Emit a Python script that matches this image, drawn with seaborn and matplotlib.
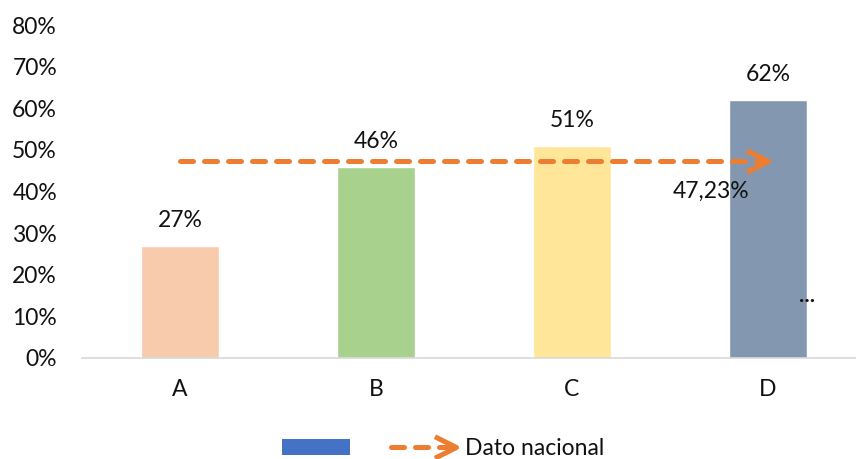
import matplotlib
matplotlib.use("Agg")
import matplotlib.pyplot as plt
import seaborn as sns
import pandas as pd
from matplotlib.path import Path
from matplotlib.lines import Line2D
from matplotlib.patches import Patch
from matplotlib.legend_handler import HandlerBase

# Data
categories = ["A", "B", "C", "D"]
values = [0.27, 0.46, 0.51, 0.62]
bar_colors = ["#F8CBAD", "#A9D18E", "#FFE699", "#8497B0"]
national_value = 0.4723
national_label = "Dato nacional"
y_ticks = [0.0, 0.1, 0.2, 0.3, 0.4, 0.5, 0.6, 0.7, 0.8]

sns.set_theme(style="white")
plt.rcParams["font.family"] = ["Lato", "DejaVu Sans"]

FS = 16.5
ORANGE = "#ED7D31"
TEXT = "#111111"

df = pd.DataFrame({"cat": categories, "val": values})

fig = plt.figure(figsize=(8.56, 4.59), dpi=100)
ax = fig.add_axes([82 / 856, (459 - 358) / 459, 1 - 82 / 856, (358 - 25) / 459])

sns.barplot(data=df, x="cat", y="val", hue="cat", palette=bar_colors,
            width=0.40, saturation=1, legend=False, ax=ax)

ax.set_ylim(0, 0.8)
ax.set_xlim(-0.5, 3.45)
ax.set_yticks(y_ticks)
ax.set_yticklabels([f"{int(round(t * 100))}%" for t in y_ticks],
                   fontsize=FS, color=TEXT)
ax.tick_params(axis="y", length=0, pad=18)
ax.tick_params(axis="x", length=0, pad=15, labelsize=FS, labelcolor=TEXT)
ax.set_xlabel("")
ax.set_ylabel("")
for side in ["left", "right", "top"]:
    ax.spines[side].set_visible(False)
ax.spines["bottom"].set_color("#D9D9D9")
ax.spines["bottom"].set_linewidth(1.2)

# value labels above bars
for i, v in enumerate(values):
    ax.annotate(f"{int(round(v * 100))}%", xy=(i, v), xytext=(0, 13.5),
                textcoords="offset points", ha="center", va="baseline",
                fontsize=FS, color=TEXT)

# open chevron used as arrow head
chevron = Path([(-1, 0.5), (0, 0), (-1, -0.5)],
               [Path.MOVETO, Path.LINETO, Path.LINETO])

dash_kw = dict(color=ORANGE, lw=3.6, linestyle=(0, (2.6, 2.2)),
               dash_capstyle="round")
head_kw = dict(marker=chevron, markersize=31, markerfacecolor="none",
               markeredgecolor=ORANGE, markeredgewidth=3.6, linestyle="none")

ax.plot([0, len(categories) - 1], [national_value, national_value],
        zorder=4, **dash_kw)
ax.plot([len(categories) - 1], [national_value], zorder=5, **head_kw)

nat_txt = f"{national_value * 100:.2f}%".replace(".", ",")
ax.annotate(nat_txt, xy=(2.71, national_value), xytext=(0, -26),
            textcoords="offset points", ha="center", va="baseline",
            fontsize=FS, color=TEXT)
ax.text(3.2, 0.151, "...", ha="center", va="center", fontsize=16,
        fontweight="bold", color=TEXT)


class ArrowLineHandler(HandlerBase):
    """Dashed line ending in an open chevron head."""

    def create_artists(self, legend, orig_handle, xdescent, ydescent,
                       width, height, fontsize, trans):
        y = height / 2 - ydescent
        x0, x1 = -xdescent, -xdescent + width
        line = Line2D([x0 + 3, x1], [y, y], transform=trans, **dash_kw)
        head = Line2D([x1], [y], transform=trans, **head_kw)
        return [line, head]


arrow_handle = Line2D([], [], color=ORANGE)
handles = [Patch(facecolor="#4472C4", edgecolor="none"), arrow_handle]
leg = fig.legend(handles=handles, labels=["", national_label], ncol=2,
                 loc="center", bbox_to_anchor=(443 / 856, 0.022),
                 frameon=False, fontsize=FS, handlelength=3.0,
                 handleheight=0.7, handletextpad=0.4, columnspacing=1.2,
                 borderpad=0, borderaxespad=0,
                 handler_map={arrow_handle: ArrowLineHandler()})
for t in leg.get_texts():
    t.set_color(TEXT)

fig.savefig("out.png", dpi=100)
